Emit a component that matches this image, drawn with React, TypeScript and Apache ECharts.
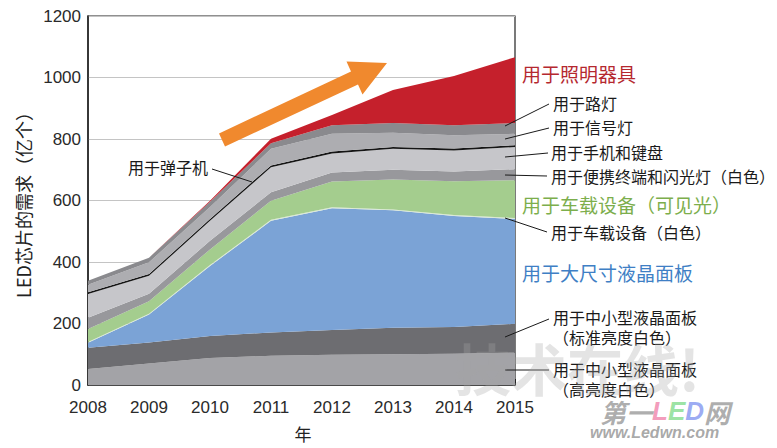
import React, { useEffect, useRef } from "react";
import * as echarts from "echarts";

const years = ["2008", "2009", "2010", "2011", "2012", "2013", "2014", "2015"];
const yTicks = [0, 200, 400, 600, 800, 1000, 1200];

// stacked layers, bottom to top (亿个)
const highWhitePanel = [52, 70, 88, 95, 98, 100, 102, 105];
const stdWhitePanel = [69, 68, 71, 76, 81, 86, 87, 94];
const largeLcd = [16, 91, 228, 363, 396, 382, 361, 341];
const carWhite = [3, 3, 3, 3, 3, 3, 3, 3];
const carVisible = [42, 40, 51, 62, 84, 97, 110, 123];
const portableFlash = [37, 25, 28, 28, 29, 32, 31, 36];
const phoneKeypad = [77, 58, 65, 81, 62, 68, 69, 72];
const pachinko = [6, 6, 6, 6, 6, 6, 6, 6];
const signalLamp = [24, 38, 39, 54, 58, 46, 43, 37];
const streetLamp = [13, 15, 17, 18, 28, 32, 33, 35];
const lighting = [0, 0, 3, 15, 33, 107, 160, 214];

const layerNames = [
  "用于中小型液晶面板（高亮度白色）",
  "用于中小型液晶面板（标准亮度白色）",
  "用于大尺寸液晶面板",
  "用于车载设备（白色）",
  "用于车载设备（可见光）",
  "用于便携终端和闪光灯（白色）",
  "用于手机和键盘",
  "用于弹子机",
  "用于信号灯",
  "用于路灯",
  "用于照明器具",
];
const layerData = [
  highWhitePanel,
  stdWhitePanel,
  largeLcd,
  carWhite,
  carVisible,
  portableFlash,
  phoneKeypad,
  pachinko,
  signalLamp,
  streetLamp,
  lighting,
];
const layerColors = [
  "#a3a3a7",
  "#6d6d71",
  "#7ba3d6",
  "#d9e8d4",
  "#a4cd8e",
  "#98989c",
  "#c6c6ca",
  "#151515",
  "#adadb1",
  "#8a8a8e",
  "#c5202c",
];

const CJK = "'Noto Sans CJK SC', 'Noto Sans', sans-serif";
const NUM = "'Liberation Sans', 'Noto Sans CJK SC', sans-serif";

export default function App() {
  const ref = useRef<HTMLDivElement>(null);
  useEffect(() => {
    if (!ref.current) return;
    const chart = echarts.init(ref.current, undefined, { renderer: "svg" });

    const blackText = (text: string, x: number, y: number) => ({
      type: "text",
      x,
      y,
      z: 20,
      style: {
        text,
        fill: "#1a1a1a",
        font: `16px ${CJK}`,
        verticalAlign: "middle",
        align: "left",
      },
    });
    const bigText = (text: string, x: number, y: number, color: string) => ({
      type: "text",
      x,
      y,
      z: 20,
      style: {
        text,
        fill: color,
        font: `19px ${CJK}`,
        verticalAlign: "middle",
        align: "left",
      },
    });
    const leader = (x1: number, y1: number, x2: number, y2: number) => ({
      type: "line",
      z: 20,
      shape: { x1, y1, x2, y2 },
      style: { stroke: "#1a1a1a", lineWidth: 1 },
    });

    chart.setOption({
      animation: false,
      backgroundColor: "#ffffff",
      grid: {
        left: 88,
        top: 16,
        right: 262,
        bottom: 63,
        show: true,
        borderColor: "#222",
        borderWidth: 1.2,
        backgroundColor: "transparent",
      },
      xAxis: {
        type: "category",
        data: years,
        boundaryGap: false,
        axisLine: { lineStyle: { color: "#222", width: 1.5 } },
        axisTick: { inside: true, length: 6, lineStyle: { color: "#222" } },
        axisLabel: {
          color: "#2a2a2a",
          fontSize: 17,
          fontFamily: NUM,
          margin: 14,
        },
        splitLine: { show: false },
      },
      yAxis: {
        type: "value",
        min: yTicks[0],
        max: yTicks[yTicks.length - 1],
        interval: 200,
        name: "LED芯片的需求（亿个）",
        nameLocation: "middle",
        nameGap: 55,
        nameRotate: 90,
        nameTextStyle: { color: "#222", fontSize: 18, fontFamily: CJK },
        axisLine: { show: true, lineStyle: { color: "#222", width: 1.5 } },
        axisTick: { show: false },
        axisLabel: {
          color: "#2a2a2a",
          fontSize: 17,
          fontFamily: NUM,
          margin: 7,
          formatter: (v: number) => String(v),
        },
        splitLine: { show: true, lineStyle: { color: "#c4c4c4", width: 1 } },
      },
      series: layerData.map((d, i) => ({
        name: layerNames[i],
        type: "line",
        stack: "total",
        data: d,
        symbol: "none",
        lineStyle: { width: 0 },
        areaStyle: { color: layerColors[i], opacity: 1 },
        itemStyle: { color: layerColors[i] },
        z: 2,
      })),
      graphic: [
        // orange arrow
        {
          type: "polygon",
          z: 15,
          shape: {
            points: [
              [219, 133.5],
              [351, 71.5],
              [346.5, 61.5],
              [387, 63],
              [362.5, 94.5],
              [358, 84.5],
              [225, 146.5],
            ],
          },
          style: { fill: "#f0892e" },
        },
        // 弹子机 label
        blackText("用于弹子机", 128, 167),
        leader(212, 169, 252, 182),
        // right labels
        bigText("用于照明器具", 522, 73, "#b5282f"),
        blackText("用于路灯", 553, 103),
        leader(505, 126, 549, 104),
        blackText("用于信号灯", 553, 127),
        leader(505, 139, 549, 128),
        blackText("用于手机和键盘", 551, 152),
        leader(505, 157, 548, 153),
        blackText("用于便携终端和闪光灯（白色）", 551, 176),
        leader(505, 175, 547, 176),
        bigText("用于车载设备（可见光）", 522, 204, "#7cae4c"),
        blackText("用于车载设备（白色）", 551, 232),
        leader(505, 218, 547, 232),
        bigText("用于大尺寸液晶面板", 522, 272, "#3f7fc5"),
        blackText("用于中小型液晶面板", 553, 317),
        blackText("（标准亮度白色）", 553, 337),
        leader(505, 337, 549, 319),
        blackText("用于中小型液晶面板", 553, 369),
        blackText("（高亮度白色）", 553, 389),
        leader(505, 370, 549, 370),
        // x axis name
        {
          type: "text",
          x: 303,
          y: 433,
          z: 20,
          style: {
            text: "年",
            fill: "#222",
            font: `17px ${CJK}`,
            align: "center",
            verticalAlign: "middle",
          },
        },
        // watermark
        {
          type: "text",
          x: 455,
          y: 366,
          z: 30,
          style: {
            text: "技术在线!",
            fill: "rgba(165,165,165,0.3)",
            font: `bold 56px ${CJK}`,
            align: "left",
            verticalAlign: "middle",
          },
        },
        {
          type: "text",
          x: 600,
          y: 411,
          z: 30,
          style: {
            rich: {
              c: { fill: "rgba(120,120,120,0.6)", font: `italic bold 26px ${CJK}` },
              l: { fill: "rgba(240,130,170,0.8)", font: `italic bold 26px ${NUM}` },
              e: { fill: "rgba(130,220,140,0.8)", font: `italic bold 26px ${NUM}` },
              d: { fill: "rgba(130,150,240,0.8)", font: `italic bold 26px ${NUM}` },
            },
            text: "{c|第一}{l|L}{e|E}{d|D}{c|网}",
            align: "left",
            verticalAlign: "middle",
          },
        },
        {
          type: "text",
          x: 590,
          y: 432,
          z: 30,
          style: {
            text: "www.Ledwn.com",
            fill: "rgba(120,120,120,0.65)",
            font: `italic bold 16px ${NUM}`,
            align: "left",
            verticalAlign: "middle",
          },
        },
      ],
    });
    return () => chart.dispose();
  }, []);
  return (
    <div
      ref={ref}
      style={{ position: "fixed", left: 0, top: 0, width: 777, height: 448 }}
    />
  );
}
